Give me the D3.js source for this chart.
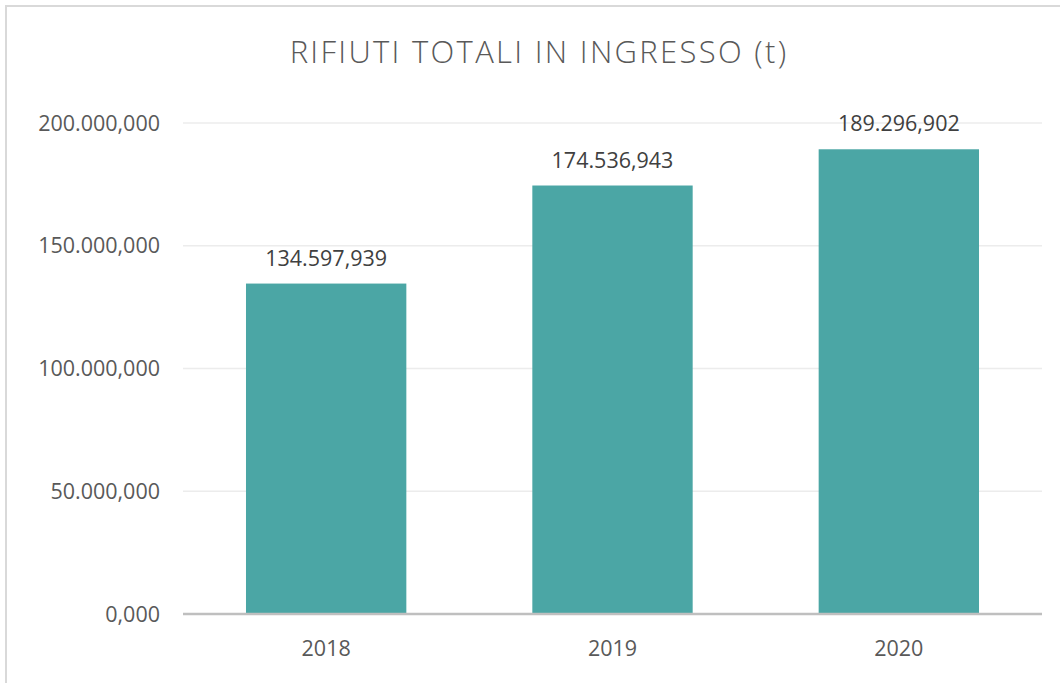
<!DOCTYPE html>
<html>
<head>
<meta charset="utf-8">
<script src="https://cdn.jsdelivr.net/npm/d3@7"></script>
<style>
  body { margin: 0; background: #fff; }
  text { font-family: "Open Sans", sans-serif; }
</style>
</head>
<body>
<svg width="1060" height="683"></svg>
<script>
let years = ["2018", "2019", "2020"];
let totals = [134597.939, 174536.943, 189296.902];
let yTicks = [0, 50000, 100000, 150000, 200000];
let title = "RIFIUTI TOTALI IN INGRESSO (t)";

let svg = d3.select("svg"),
    margin = {top: 123, right: 18, bottom: 69, left: 183},
    width = 1060 - margin.left - margin.right,
    height = 683 - margin.top - margin.bottom;

// chart frame (only top and left edges fall inside the crop)
svg.append("path")
    .attr("d", "M6,683 V6 H1060")
    .attr("fill", "none")
    .attr("stroke", "#d9d9d9")
    .attr("stroke-width", 2);

let g = svg.append("g").attr("transform", "translate(" + margin.left + "," + margin.top + ")");

let it = d3.formatLocale({decimal: ",", thousands: ".", grouping: [3], currency: ["", "€"]});
let fmt = it.format(",.3f");

let x = d3.scaleBand()
    .domain(years)
    .range([0, width])
    .paddingInner(0.44)
    .paddingOuter(0.22);

let y = d3.scaleLinear()
    .domain([0, 200000])
    .range([height, 0]);

// gridlines
g.append("g")
  .selectAll("line")
  .data(yTicks.slice(1))
  .enter().append("line")
    .attr("x1", 0)
    .attr("x2", width)
    .attr("y1", d => y(d))
    .attr("y2", d => y(d))
    .attr("stroke", "#ececec")
    .attr("stroke-width", 1.5);

// y labels
g.append("g")
  .selectAll("text")
  .data(yTicks)
  .enter().append("text")
    .attr("x", -23)
    .attr("y", d => y(d))
    .attr("dy", "0.35em")
    .attr("text-anchor", "end")
    .attr("font-size", 21.5)
    .attr("fill", "#595959")
    .text(d => fmt(d));

// bars
g.append("g")
  .selectAll("rect")
  .data(totals)
  .enter().append("rect")
    .attr("x", (d, i) => x(years[i]))
    .attr("y", d => y(d))
    .attr("width", x.bandwidth())
    .attr("height", d => height - y(d))
    .attr("fill", "#4ba6a5");

// value labels
g.append("g")
  .selectAll("text")
  .data(totals)
  .enter().append("text")
    .attr("x", (d, i) => x(years[i]) + x.bandwidth() / 2)
    .attr("y", d => y(d) - 18)
    .attr("text-anchor", "middle")
    .attr("font-size", 21.5)
    .attr("fill", "#404040")
    .text(d => fmt(d));

// baseline
g.append("line")
    .attr("x1", 0)
    .attr("x2", width)
    .attr("y1", height)
    .attr("y2", height)
    .attr("stroke", "#bfbfbf")
    .attr("stroke-width", 2.5);

// x labels
g.append("g")
  .selectAll("text")
  .data(years)
  .enter().append("text")
    .attr("x", d => x(d) + x.bandwidth() / 2)
    .attr("y", height + 42)
    .attr("text-anchor", "middle")
    .attr("font-size", 21.5)
    .attr("fill", "#595959")
    .text(d => d);

// title
svg.append("text")
    .attr("x", 539)
    .attr("y", 63)
    .attr("text-anchor", "middle")
    .attr("font-size", 31)
    .attr("font-weight", 300)
    .attr("letter-spacing", 2.3)
    .attr("fill", "#595959")
    .text(title);
</script>
</body>
</html>
